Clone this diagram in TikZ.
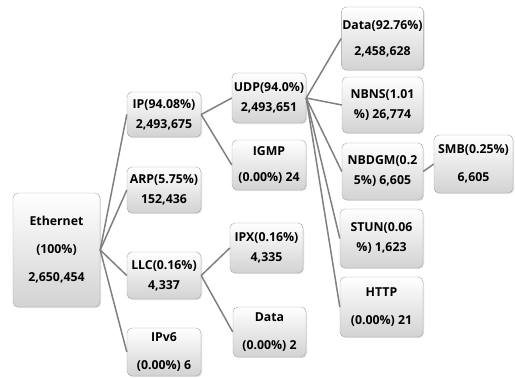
\documentclass[tikz,border=0pt]{standalone}
\usepackage{fontspec}
\setmainfont{Open Sans}
\usepackage{tikz}
\usetikzlibrary{shadows}

\tikzset{
  box/.style={draw=gray!70, rounded corners=5pt, top color=white, bottom color=gray!35,
    drop shadow={shadow xshift=1pt, shadow yshift=-1pt, opacity=0.25},
    align=center, inner sep=1pt, font=\bfseries\fontsize{12.3}{20}\selectfont},
  link/.style={draw=gray, line width=1.5pt}
}

\begin{document}
\begin{tikzpicture}[x=1pt, y=1pt]
        \useasboundingbox (0,0) rectangle (515,378);
        % Nodes
        \node[box, minimum width=87pt, minimum height=114pt] (Ethernet) at (56.5,128) {Ethernet\\[8pt](100\%)\\[8pt]2,650,454};
        \node[box, minimum width=74pt, minimum height=45pt] (IP) at (164,263.5) {IP(94.08\%)\\2,493,675};
        \node[box, minimum width=74pt, minimum height=46pt] (ARP) at (164,188) {ARP(5.75\%)\\152,436};
        \node[box, minimum width=74pt, minimum height=47pt] (LLC) at (164,102.5) {LLC(0.16\%)\\4,337};
        \node[box, minimum width=74pt, minimum height=48pt] (IPvsix) at (164,26) {IPv6\\[8pt](0.00\%) 6};
        \node[box, minimum width=74pt, minimum height=50pt] (UDP) at (269,280) {UDP(94.0\%)\\2,493,651};
        \node[box, minimum width=74pt, minimum height=50pt] (IGMP) at (269,213) {IGMP\\[6pt](0.00\%) 24};
        \node[box, minimum width=73pt, minimum height=50pt] (IPX) at (266.5,130) {IPX(0.16\%)\\4,335};
        \node[box, minimum width=73pt, minimum height=50pt] (LLCData) at (269.5,46) {Data\\[8pt](0.00\%) 2};
        \node[box, minimum width=81pt, minimum height=63pt] (UDPData) at (382.5,339.5) {Data(92.76\%)\\[6pt]2,458,628};
        \node[box, minimum width=81pt, minimum height=56pt] (NBNS) at (382.5,273) {NBNS(1.01\\\%) 26,774};
        \node[box, minimum width=81pt, minimum height=57pt] (NBDGM) at (382.5,206.5) {NBDGM(0.2\\5\%) 6,605};
        \node[box, minimum width=79pt, minimum height=58pt] (SMB) at (473.5,214) {SMB(0.25\%)\\[8pt]6,605};
        \node[box, minimum width=83pt, minimum height=59pt] (STUN) at (381.5,139.5) {STUN(0.06\\\%) 1,623};
        \node[box, minimum width=83pt, minimum height=60pt] (HTTP) at (381.5,71) {HTTP\\[8pt](0.00\%) 21};
        % Lines
        \foreach \child in {IP, ARP, LLC, IPvsix}
          \draw[link] (Ethernet.east) -- (\child.west);
        \foreach \child in {UDP, IGMP}
          \draw[link] (IP.east) -- (\child.west);
        \foreach \child in {IPX, LLCData}
          \draw[link] (LLC.east) -- (\child.west);
        \foreach \child in {UDPData, NBNS, NBDGM, STUN, HTTP}
          \draw[link] (UDP.east) -- (\child.west);
        \draw[link] (NBDGM.east) -- (SMB.west);
    \end{tikzpicture}
\end{document}
